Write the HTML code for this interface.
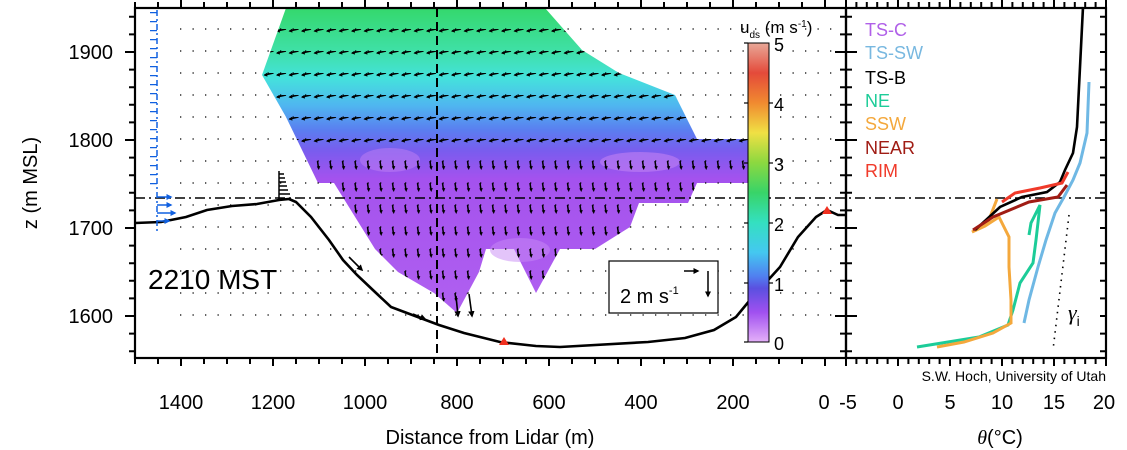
<!DOCTYPE html>
<html><head><meta charset="utf-8">
<style>
html,body{margin:0;padding:0;background:#fff;}
svg{display:block;font-family:"Liberation Sans",sans-serif;}
</style></head>
<body>
<svg width="1127" height="450" viewBox="0 0 1127 450" xmlns="http://www.w3.org/2000/svg">
<defs>
<linearGradient id="fld" x1="0" y1="8" x2="0" y2="313" gradientUnits="userSpaceOnUse">
<stop offset="0" stop-color="#34d86c"/>
<stop offset="0.14" stop-color="#3fe0a6"/>
<stop offset="0.23" stop-color="#44e2dc"/>
<stop offset="0.32" stop-color="#4fb6f0"/>
<stop offset="0.40" stop-color="#5a7ef0"/>
<stop offset="0.47" stop-color="#7a5cee"/>
<stop offset="0.56" stop-color="#a452ee"/>
<stop offset="1" stop-color="#b060f0"/>
</linearGradient>
<linearGradient id="cb" x1="0" y1="0" x2="0" y2="1">
<stop offset="0" stop-color="#e8a898"/>
<stop offset="0.1" stop-color="#e44a3a"/>
<stop offset="0.2" stop-color="#f08a30"/>
<stop offset="0.3" stop-color="#f0e044"/>
<stop offset="0.4" stop-color="#8cd840"/>
<stop offset="0.5" stop-color="#38d468"/>
<stop offset="0.6" stop-color="#34e0c0"/>
<stop offset="0.7" stop-color="#44c8f0"/>
<stop offset="0.78" stop-color="#5080f0"/>
<stop offset="0.82" stop-color="#5a50e0"/>
<stop offset="0.9" stop-color="#a050f0"/>
<stop offset="1" stop-color="#e4b0f8"/>
</linearGradient>
<marker id="ah" markerWidth="4" markerHeight="4" refX="3" refY="2" orient="auto"><path d="M0,0 L4,2 L0,4 z" fill="#000"/></marker>
<marker id="ahb" markerWidth="4" markerHeight="4" refX="3" refY="2" orient="auto"><path d="M0,0 L4,2 L0,4 z" fill="#1060e0"/></marker>
<pattern id="pl" x="0" y="7" width="12.5" height="22" patternUnits="userSpaceOnUse">
<path d="M11,0 L2,2" stroke="#000" stroke-width="1.6" fill="none"/><path d="M1,2.2 L4.5,-0.3 L5,3.6 z" fill="#000"/>
</pattern>
<pattern id="pd" x="0" y="7" width="12.5" height="22" patternUnits="userSpaceOnUse">
<path d="M5,0 L6,7" stroke="#000" stroke-width="1.5" fill="none"/><path d="M6.3,9 L4.3,5.5 L7.8,5 z" fill="#000"/>
</pattern>
<clipPath id="fc"><polygon points="286,8 545,8 582,50 619,73 675,95 697,139 749,139 749,183 697,183 688,203 639,203 630,227 595,249 560,249 536,293 514,249 486,249 479,272 457,313 434,293 398,272 375,249 334,183 318,183 286,117 262,75"/></clipPath>
</defs>

<polygon fill="url(#fld)" points="286,8 545,8 582,50 619,73 675,95 697,139 749,139 749,183 697,183 688,203 639,203 630,227 595,249 560,249 536,293 514,249 486,249 479,272 457,313 434,293 398,272 375,249 334,183 318,183 286,117 262,75"/>
<ellipse cx="640" cy="162" rx="40" ry="10" fill="#c080f4" opacity="0.6"/>
<ellipse cx="390" cy="160" rx="30" ry="12" fill="#c080f4" opacity="0.5"/>
<ellipse cx="520" cy="250" rx="30" ry="12" fill="#c88af6" opacity="0.5"/>

<g stroke="#000" stroke-width="1.3" stroke-dasharray="1.3 11.2">
<line x1="180" y1="29" x2="842" y2="29"/><line x1="180" y1="51" x2="842" y2="51"/><line x1="180" y1="73" x2="842" y2="73"/><line x1="180" y1="95" x2="842" y2="95"/><line x1="180" y1="117" x2="842" y2="117"/><line x1="180" y1="139" x2="842" y2="139"/><line x1="180" y1="161" x2="842" y2="161"/><line x1="180" y1="183" x2="842" y2="183"/><line x1="180" y1="205" x2="842" y2="205"/><line x1="180" y1="227" x2="842" y2="227"/><line x1="180" y1="249" x2="842" y2="249"/><line x1="180" y1="271" x2="842" y2="271"/><line x1="180" y1="293" x2="842" y2="293"/><line x1="180" y1="315" x2="842" y2="315"/>
</g>
<g clip-path="url(#fc)">
<rect x="255" y="18" width="500" height="132" fill="url(#pl)"/>
<rect x="255" y="150" width="500" height="170" fill="url(#pd)"/>
</g>
<g stroke="#000" stroke-width="1.6">
<line x1="349" y1="257" x2="362" y2="270" marker-end="url(#ah)"/>
<line x1="413" y1="314" x2="425" y2="319" marker-end="url(#ah)"/>
<line x1="456" y1="296" x2="458" y2="316" marker-end="url(#ah)"/>
<line x1="469" y1="294" x2="472" y2="316" marker-end="url(#ah)"/>
</g>

<line x1="437" y1="8" x2="437" y2="358" stroke="#000" stroke-width="2" stroke-dasharray="9 5"/>
<line x1="135" y1="198" x2="1106" y2="198" stroke="#000" stroke-width="1.5" stroke-dasharray="10 4 2 4"/>

<polyline fill="none" stroke="#000" stroke-width="2.6" points="135,223 161,222 186,217 207,210 232,206 257,204 279,200 289,199 296,202 311,217 329,240 343,260 357,275 375,292 391,307 407,313 439,325 464,333 500,342 536,346 560,347 648,342 685,338 714,330 736,317 750,300 780,267 798,237 816,217 827,210 838,215 846,215"/>
<polygon points="504,337 499,345 509,345" fill="#f03020"/>
<polygon points="827,206 822,214 832,214" fill="#f03020"/>

<g stroke="#000" stroke-width="1.5">
<line x1="279" y1="171" x2="279" y2="200"/>
<line x1="279" y1="174" x2="284" y2="174"/><line x1="279" y1="178" x2="285" y2="178"/><line x1="279" y1="182" x2="286" y2="182"/><line x1="279" y1="186" x2="287" y2="186"/><line x1="279" y1="190" x2="288" y2="190"/><line x1="279" y1="194" x2="290" y2="194"/>
</g>

<g stroke="#1060e0" stroke-width="1.5">
<line x1="157" y1="10" x2="157" y2="232" stroke-dasharray="6 3 2 3"/>
<line x1="153.5" y1="12" x2="153.5" y2="190" stroke-width="7" stroke-dasharray="1.3 7.7"/>
<line x1="157" y1="197" x2="171" y2="197" marker-end="url(#ahb)"/>
<line x1="157" y1="205" x2="171" y2="205" marker-end="url(#ahb)"/>
<line x1="157" y1="213" x2="175" y2="213" marker-end="url(#ahb)"/>
<line x1="157" y1="221" x2="169" y2="221" marker-end="url(#ahb)"/>
</g>

<rect x="748" y="43" width="21" height="299" fill="url(#cb)" stroke="#000" stroke-width="1"/>
<g stroke="#000" stroke-width="1.2">
<line x1="744" y1="43" x2="748" y2="43"/><line x1="744" y1="103" x2="748" y2="103"/><line x1="744" y1="163" x2="748" y2="163"/><line x1="744" y1="223" x2="748" y2="223"/><line x1="744" y1="283" x2="748" y2="283"/><line x1="744" y1="342" x2="748" y2="342"/>
<line x1="769" y1="103" x2="773" y2="103"/><line x1="769" y1="163" x2="773" y2="163"/><line x1="769" y1="223" x2="773" y2="223"/><line x1="769" y1="283" x2="773" y2="283"/>
</g>
<g font-size="18" fill="#000">
<text x="774" y="51">5</text><text x="774" y="111">4</text><text x="774" y="171">3</text><text x="774" y="231">2</text><text x="774" y="291">1</text><text x="774" y="350">0</text>
<text x="740" y="33" font-size="17">u<tspan font-size="10" dy="5">ds</tspan><tspan dy="-5"> (m s</tspan><tspan font-size="10" dy="-6">-1</tspan><tspan dy="6">)</tspan></text>
</g>

<rect x="609" y="261" width="109" height="52" fill="#fff" stroke="#000" stroke-width="1.2"/>
<text x="620" y="303" font-size="20">2 m s<tspan font-size="11" dy="-9">-1</tspan></text>
<line x1="684" y1="271" x2="698" y2="271" stroke="#000" stroke-width="1.5" marker-end="url(#ah)"/>
<line x1="708" y1="271" x2="708" y2="296" stroke="#000" stroke-width="1.5" marker-end="url(#ah)"/>

<text x="148" y="289" font-size="28">2210 MST</text>

<polyline fill="none" stroke="#6fb8e4" stroke-width="3" points="1089,82 1087,133 1080,163 1073,180 1064,197 1055,213 1046,240 1038,267 1029,300 1024,323"/>
<polyline fill="none" stroke="#1ccc98" stroke-width="3" points="1029,235 1031,223 1040,205 1036,240 1033,263 1020,283 1013,310 1008,325 979,337 917,347"/>
<polyline fill="none" stroke="#f4a83c" stroke-width="3" points="997,199 990,217 988,223 972,232 985,226 999,217 1009,237 1009,267 1011,300 1011,323 993,333 964,342 937,347"/>
<polyline fill="none" stroke="#000" stroke-width="2.6" points="1083,7 1080,67 1077,127 1073,153 1065,170 1060,182 1047,192 1022,197 1000,207 986,220 975,230"/>
<polyline fill="none" stroke="#f03a2a" stroke-width="3" points="1068,172 1062,183 1040,188 1015,193 1002,202"/>
<polyline fill="none" stroke="#a01c14" stroke-width="3" points="1067,185 1058,197 1029,202 993,217 973,230"/>
<line x1="1069" y1="215" x2="1053" y2="350" stroke="#000" stroke-width="1.6" stroke-dasharray="1.5 5"/>
<text x="1068" y="320" font-size="22" font-family="Liberation Serif,serif" font-style="italic">γ<tspan font-size="14" font-style="normal" font-family="Liberation Sans,sans-serif" dy="6">i</tspan></text>

<g font-size="18">
<text x="865" y="36" fill="#b060e8">TS-C</text>
<text x="865" y="59" fill="#78b8e0">TS-SW</text>
<text x="865" y="84" fill="#000">TS-B</text>
<text x="865" y="107" fill="#1ccc98">NE</text>
<text x="865" y="130" fill="#f4a83c">SSW</text>
<text x="865" y="154" fill="#a01c14">NEAR</text>
<text x="865" y="177" fill="#f03a2a">RIM</text>
</g>

<rect x="135" y="8" width="711" height="350" fill="none" stroke="#000" stroke-width="2.2"/>
<rect x="846" y="8" width="260" height="350" fill="none" stroke="#000" stroke-width="2.2"/>
<g stroke="#000" stroke-width="2">
<line x1="132" y1="352.2" x2="132" y2="8" stroke-width="6" stroke-dasharray="2 15.6"/>
<line x1="130" y1="317" x2="130" y2="8" stroke-width="10" stroke-dasharray="2 86"/>
<line x1="846" y1="352.2" x2="846" y2="8" stroke-width="12" stroke-dasharray="2 15.6"/>
<line x1="846" y1="317" x2="846" y2="8" stroke-width="22" stroke-dasharray="2 86"/>
<line x1="1103" y1="352.2" x2="1103" y2="8" stroke-width="6" stroke-dasharray="2 15.6"/>
<line x1="134" y1="361" x2="846" y2="361" stroke-width="6" stroke-dasharray="2 21"/>
<line x1="180" y1="362" x2="846" y2="362" stroke-width="8" stroke-dasharray="2 90"/>
<line x1="134" y1="5" x2="846" y2="5" stroke-width="6" stroke-dasharray="2 21"/>
<line x1="180" y1="4" x2="846" y2="4" stroke-width="8" stroke-dasharray="2 90"/>
<line x1="845" y1="361" x2="1107" y2="361" stroke-width="6" stroke-dasharray="2 8.4"/>
<line x1="845" y1="362" x2="1107" y2="362" stroke-width="8" stroke-dasharray="2 50"/>
<line x1="845" y1="5" x2="1107" y2="5" stroke-width="6" stroke-dasharray="2 8.4"/>
<line x1="845" y1="4" x2="1107" y2="4" stroke-width="8" stroke-dasharray="2 50"/>
</g>

<g font-size="20" fill="#000" text-anchor="end">
<text x="113" y="59">1900</text><text x="113" y="147">1800</text><text x="113" y="235">1700</text><text x="113" y="323">1600</text>
</g>
<g font-size="20" fill="#000" text-anchor="middle">
<text x="181" y="409">1400</text><text x="273" y="409">1200</text><text x="365" y="409">1000</text><text x="457" y="409">800</text><text x="549" y="409">600</text><text x="641" y="409">400</text><text x="733" y="409">200</text><text x="824" y="409">0</text><text x="848" y="409">-5</text>
<text x="898" y="409">0</text><text x="950" y="409">5</text><text x="1002" y="409">10</text><text x="1054" y="409">15</text><text x="1104" y="409">20</text>
<text x="490" y="444">Distance from Lidar (m)</text>
<text x="1000" y="444"><tspan font-family="Liberation Serif,serif" font-style="italic">θ</tspan>(°C)</text>
</g>
<text x="1106" y="381" font-size="14" text-anchor="end">S.W. Hoch, University of Utah</text>
<text transform="translate(37,183) rotate(-90)" font-size="20" text-anchor="middle">z (m MSL)</text>
</svg>
</body></html>
